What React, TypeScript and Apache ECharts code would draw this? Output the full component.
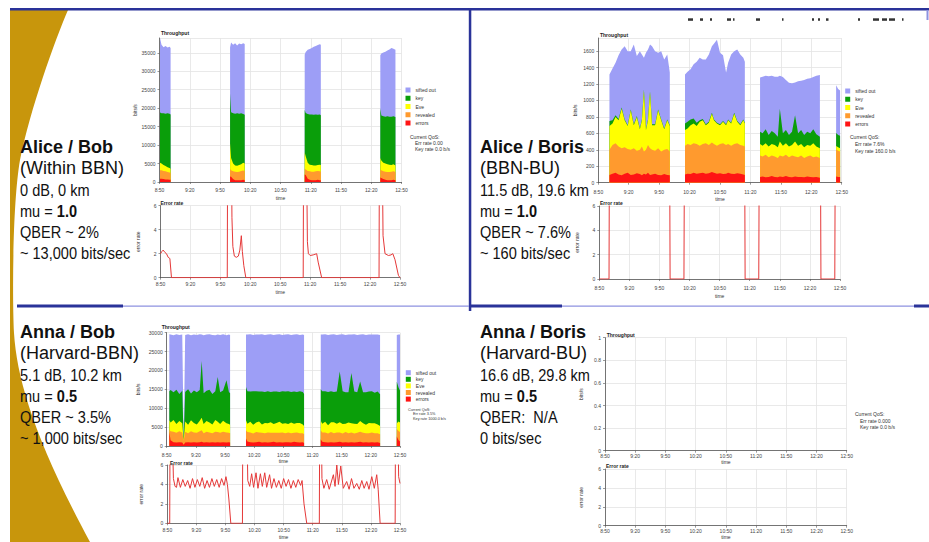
import React, { useEffect, useRef } from "react";
import * as echarts from "echarts";

// ---------- axis / legend texts ----------
const timeLabels = ["8:50", "9:20", "9:50", "10:20", "10:50", "11:20", "11:50", "12:20", "12:50"];
const legendNames = ["sifted out", "key", "Eve", "revealed", "errors"];
const layerNames = ["errors", "revealed", "Eve", "key", "sifted out"];
const layerColors = ["#ff1414", "#ff9a2e", "#ffff00", "#0a9e0a", "#9d9ef6"];

// ---------- Alice / Bob : throughput (bits/s per layer) ----------
const abTime = [0.5, 2, 4, 6, 8, 10, 11, 40, 70, 71, 73, 75, 77, 79, 81, 83, 84.5, 115, 144, 145, 147, 149, 151, 153, 155, 157, 159, 160, 190, 219, 220, 222, 224, 226, 228, 230, 232, 234];
const abErrors = [900, 900, 800, 700, 700, 600, 600, null, 1500, 1400, 800, 500, 500, 500, 500, 600, 500, null, 2000, 1900, 900, 600, 500, 500, 500, 600, 500, 500, null, 1200, 1100, 800, 600, 500, 500, 500, 600, 500];
const abRevealed = [2300, 2300, 2200, 2200, 2000, 2000, 1900, null, 2000, 1800, 2100, 2300, 2200, 2300, 2500, 2500, 2500, null, 1600, 1500, 2100, 2300, 2300, 2300, 2400, 2400, 2400, 2300, null, 2100, 2100, 2100, 2200, 2200, 2200, 2300, 2300, 2200];
const abEve = [2000, 1800, 1600, 1400, 1300, 1200, 1100, null, 7000, 3300, 2100, 1700, 1700, 1800, 1800, 2100, 2000, null, 4400, 3600, 2200, 1800, 1800, 1700, 1600, 1600, 1800, 1800, null, 3200, 2600, 2300, 2200, 2100, 2000, 1800, 1900, 1800];
const abKey = [13600, 13600, 14000, 14200, 14600, 14700, 14700, null, 13500, 12400, 13600, 14000, 14200, 13900, 13800, 13200, 13200, null, 11500, 11700, 13200, 13600, 13700, 13700, 13800, 13600, 13600, 13500, null, 13500, 12200, 12600, 12700, 13000, 13000, 13100, 13000, 13100];
const abSifted = [20200, 18600, 17900, 18300, 17800, 18100, 18000, null, 12500, 18900, 18600, 19100, 18400, 19000, 18700, 19200, 19200, null, 15000, 16500, 17400, 17700, 18000, 18400, 18500, 18900, 19000, 19100, null, 14300, 16800, 17300, 17600, 17800, 18200, 18600, 18300, 18200];

// ---------- Alice / Bob : error rate ----------
const abErrTime = [0, 1.5, 2.7, 4.5, 6, 7.7, 9.4, 11, 66.9, 67.2, 71.2, 71.6, 72.5, 74, 76, 78, 79.5, 81, 82, 83.5, 85.5, 143, 143.3, 146.5, 147.2, 148.2, 150, 153, 156.5, 158, 161.5, 219, 219.3, 222.4, 223, 225, 228.4, 231, 232.8, 235, 238.4, 240];
const abErrRate = [2.0, 2.2, 2.3, 2.1, 2.0, 1.7, 1.6, 0, 0, 9, 9, 5, 2.6, 1.8, 1.7, 1.8, 2.3, 3.5, 2.2, 1.0, 0, 0, 9, 9, 3, 2.0, 1.85, 1.9, 2.0, 1.3, 0, 0, 9, 9, 3.5, 2.0, 1.85, 1.9, 2.0, 1.5, 0.2, 0];

// ---------- Alice / Boris : throughput ----------
const boTime = [11, 14, 17, 20, 23, 26, 29, 32, 35, 38, 41, 43, 45, 47, 49, 51, 53, 56, 59, 62, 65, 68, 70.5, 78, 85.5, 88, 91, 94, 97, 100, 103, 106, 109, 112, 114, 117, 120, 123, 126, 128, 131, 134, 137, 140, 143, 144.5, 152, 159.5, 162, 165, 168, 171, 174, 177, 179, 182, 185, 188, 191, 194, 197, 200, 203, 206, 209, 212, 215, 218.5, 226, 234.5, 236.5, 238.4];
const boErrors = [95, 110, 120, 100, 90, 110, 120, 95, 100, 115, 105, 90, 110, 100, 120, 95, 100, 110, 95, 90, 105, 95, 90, null, 100, 110, 105, 120, 110, 115, 120, 110, 115, 130, 120, 110, 115, 105, 110, 120, 110, 105, 115, 110, 100, 95, null, 70, 75, 65, 70, 80, 70, 65, 75, 70, 80, 70, 65, 75, 70, 70, 65, 75, 70, 65, 70, 60, null, 75, 70, 70];
const boRevealed = [305, 350, 360, 340, 330, 320, 290, 305, 320, 275, 295, 350, 270, 300, 340, 325, 300, 280, 325, 290, 295, 315, 290, null, 350, 360, 355, 360, 360, 335, 350, 370, 345, 360, 350, 340, 355, 375, 350, 350, 340, 365, 365, 350, 350, 345, null, 260, 245, 275, 240, 250, 250, 235, 255, 250, 260, 240, 265, 245, 240, 260, 235, 245, 260, 245, 250, 240, null, 330, 320, 310];
const boEve = [290, 260, 320, 320, 480, 330, 280, 480, 280, 410, 250, 320, 740, 240, 300, 680, 300, 310, 460, 380, 250, 350, 310, null, 190, 190, 240, 240, 220, 290, 290, 220, 270, 350, 290, 270, 230, 260, 240, 290, 270, 370, 260, 240, 310, 280, null, 140, 130, 140, 130, 140, 140, 130, 170, 130, 140, 130, 130, 180, 140, 140, 130, 140, 120, 170, 120, 120, null, 40, 40, 40];
const boKey = [60, 40, 20, 15, 15, 10, 10, 10, 10, 10, 10, 10, 10, 10, 10, 10, 10, 10, 10, 10, 10, 10, 10, null, 80, 80, 70, 60, 40, 20, 15, 10, 10, 10, 10, 10, 10, 10, 10, 10, 10, 10, 10, 10, 10, 10, null, 150, 150, 170, 140, 160, 140, 130, 400, 150, 160, 140, 160, 320, 150, 170, 150, 160, 150, 170, 150, 140, null, 160, 150, 150];
const boSifted = [565, 630, 640, 775, 705, 890, 900, 710, 970, 730, 940, 790, 390, 930, 850, 570, 950, 890, 690, 830, 840, 790, 640, null, 595, 610, 610, 660, 740, 760, 725, 790, 820, 810, 920, 1010, 870, 800, 630, 690, 830, 750, 870, 850, 750, 740, null, 660, 690, 650, 715, 670, 690, 730, 400, 685, 610, 635, 590, 400, 635, 600, 670, 645, 670, 635, 710, 750, null, 580, 560, 550];

// ---------- Alice / Boris : error rate ----------
const boErrTime = [0, 9.7, 10, 70.2, 70.6, 84.4, 84.8, 145, 145.4, 159, 159.4, 220.6, 221, 234.8, 235.2, 240];
const boErrRate = [0, 0, 9, 9, 0, 0, 9, 9, 0, 0, 9, 9, 0, 0, 9, 9];

// ---------- Anna / Bob : throughput ----------
const anTime = [2.7, 4, 7, 10, 13, 16, 17.5, 19, 22, 25, 28, 31, 34, 36, 38, 41, 44, 47, 50, 52.5, 55, 58, 61.5, 64, 65.2, 73, 81.6, 83, 86, 89, 92, 95, 98, 101, 104, 107, 110, 113, 116, 119, 122, 125, 128, 131, 134, 137, 140, 141.3, 150, 158.5, 160, 163, 166, 169, 172, 175, 178, 181, 184, 187, 190, 193, 196, 199, 202, 205, 208, 211, 214, 217, 219.5, 228, 236.7, 238.5, 240];
const anErrors = [3800, 1500, 1000, 900, 1000, 900, 300, 900, 1000, 900, 1000, 900, 1000, 1100, 900, 1000, 900, 1000, 900, 1000, 900, 1000, 900, 1000, 900, null, 2000, 1200, 1000, 900, 1000, 1100, 900, 1000, 900, 1000, 1100, 900, 1000, 900, 1000, 1000, 900, 1100, 1000, 900, 1000, 800, null, 1800, 1100, 1000, 900, 1000, 900, 1000, 1100, 900, 1000, 900, 1000, 900, 1000, 1100, 900, 1000, 900, 1000, 900, 1000, 800, null, 2500, 1500, 1200];
const anRevealed = [500, 2400, 2800, 2600, 2900, 2700, 1100, 2900, 2400, 3000, 2600, 2600, 2900, 3100, 2500, 2800, 2700, 2400, 2900, 2700, 2600, 2800, 2700, 2500, 2500, null, 2200, 2500, 2600, 2400, 2700, 2500, 2600, 2400, 2700, 2500, 2400, 2600, 2500, 2700, 2400, 2600, 2500, 2400, 2600, 2500, 2400, 2300, null, 2400, 2500, 2600, 2400, 2700, 2500, 2600, 2500, 2400, 2700, 2500, 2600, 2400, 2500, 2700, 2600, 2400, 2500, 2600, 2500, 2400, 2300, null, 2000, 2500, 2500];
const anEve = [2500, 2300, 3100, 2300, 2700, 2400, 0, 2700, 2200, 2900, 2500, 2200, 2800, 3300, 2400, 2800, 2600, 2300, 3100, 2700, 2300, 2900, 2400, 2300, 2200, null, 2600, 2200, 2800, 2300, 2500, 2900, 2200, 2700, 2400, 2800, 2300, 2600, 2900, 2300, 2600, 2200, 2800, 2400, 2500, 2700, 2300, 2200, null, 2500, 2300, 2800, 2200, 2600, 2900, 2300, 2700, 2500, 2200, 2800, 2400, 2600, 2300, 2800, 2500, 2200, 2700, 2400, 2600, 2300, 2200, null, 1500, 2500, 2500];
const anKey = [7700, 8600, 7300, 9100, 7200, 8600, 0, 7800, 9400, 7100, 8600, 8500, 8100, 15000, 8200, 8000, 8700, 8100, 7600, 11900, 8400, 8000, 11400, 8500, 8400, null, 8800, 8600, 8000, 8900, 8300, 7900, 8700, 8200, 8500, 8000, 8600, 8300, 7900, 8600, 8400, 8700, 8100, 8500, 8200, 8400, 8600, 8500, null, 8300, 8600, 8100, 8800, 8200, 8000, 8500, 13400, 8700, 8300, 8000, 13300, 8500, 8400, 10500, 8200, 8600, 8300, 8500, 8100, 8700, 8400, null, 11000, 9000, 8500];
const anSifted = [15100, 14700, 15100, 14700, 15600, 14900, 0, 15100, 14600, 15400, 14800, 15200, 14800, 7000, 15300, 14900, 14700, 15600, 14800, 11200, 15200, 14900, 11900, 15200, 15400, null, 13900, 15000, 15200, 14900, 15000, 15100, 15200, 15100, 15000, 15300, 15000, 15100, 15300, 14900, 15100, 15100, 15100, 15100, 15300, 14900, 15200, 15600, null, 14500, 15000, 15100, 15100, 15000, 15300, 15000, 9800, 15100, 15200, 15300, 10200, 15200, 15200, 12400, 15400, 15200, 15100, 15000, 15400, 15100, 15700, null, 12400, 14000, 14800];

// ---------- Anna / Bob : error rate ----------
const anErrTime = [0, 2.5, 2.8, 5.3, 6.3, 8, 9.5, 11, 13.5, 16, 18.5, 21, 23.5, 26, 28.5, 31, 33.5, 36, 38.5, 41, 43.5, 46, 48.5, 51, 53.5, 56, 58.5, 60.5, 62, 63.5, 65.5, 77.5, 77.8, 82.3, 83, 85, 87, 89, 91.5, 93.5, 96, 98, 100.5, 102.5, 105.5, 107.5, 110, 112.5, 115, 117.5, 120, 122.5, 125, 127.5, 130, 132.5, 135, 137.5, 139, 141, 143.8, 156.8, 157.1, 159, 159.5, 161.5, 164.4, 167, 171.3, 173, 174.8, 176.5, 178.9, 181.5, 185, 187.5, 190, 192.5, 195.4, 198, 200.6, 203, 205.7, 208, 210.9, 213.5, 216, 217.5, 219.5, 235, 235.3, 238, 238.6, 240];
const anErrRate = [0, 0, 9, 9, 4.6, 3.8, 3.7, 4.7, 3.7, 4.5, 3.8, 4.4, 3.6, 4.6, 3.7, 4.5, 3.8, 4.7, 3.6, 4.4, 3.7, 4.6, 3.8, 4.5, 3.7, 4.6, 3.9, 4.8, 4.0, 2.5, 0, 0, 9, 9, 4.4, 3.8, 5.1, 3.7, 5.2, 3.6, 5.1, 3.8, 5.2, 3.7, 5.0, 3.6, 4.6, 3.7, 4.4, 3.6, 4.6, 3.8, 4.5, 3.6, 4.4, 3.7, 4.5, 3.9, 4.4, 2.0, 0, 0, 9, 9, 4.6, 3.6, 4.5, 3.5, 5.0, 3.8, 6.0, 4.0, 5.9, 3.6, 4.3, 3.5, 4.6, 3.6, 4.1, 3.5, 4.4, 3.6, 4.3, 3.5, 4.8, 3.6, 5.0, 3.5, 0, 0, 9, 9, 4.8, 4.1];

// ---------- slide texts ----------
const blockAliceBob = ["Alice / Bob", "(Within BBN)", "0 dB, 0 km", "mu = {b|1.0}", "QBER ~ 2%", "~ 13,000 bits/sec"];
const blockAliceBoris = ["Alice / Boris", "(BBN-BU)", "11.5 dB, 19.6 km", "mu = {b|1.0}", "QBER ~ 7.6%", "~ 160 bits/sec"];
const blockAnnaBob = ["Anna / Bob", "(Harvard-BBN)", "5.1 dB, 10.2 km", "mu = {b|0.5}", "QBER ~ 3.5%", "~ 1,000 bits/sec"];
const blockAnnaBoris = ["Anna / Boris", "(Harvard-BU)", "16.6 dB, 29.8 km", "mu = {b|0.5}", "QBER:  N/A", "0 bits/sec"];
const qosAliceBob = ["Current QoS:", "Err rate 0.00", "Key rate 0.0 b/s"];
const qosAliceBoris = ["Current QoS:", "Err rate 7.6%", "Key rate 160.0 b/s"];
const qosAnnaBob = ["Current QoS:", "Err rate 3.5%", "Key rate 1000.0 b/s"];
const qosAnnaBoris = ["Current QoS:", "Err rate 0.000", "Key rate 0.0 b/s"];

const FONT = '"Liberation Sans", Arial, Helvetica, sans-serif';
const NAVY = "#2a3399";
const THIN = "#8e92e0";
const GOLD = "#c8960c";
const tiny = { fontSize: 5, color: "#444", fontFamily: FONT };

const goldPath =
  "M10,10 L68,10 C55,40 30,110 20,160 C13,200 12,290 14,333 C17,380 35,440 90,542 L10,542 Z";
let shapeRegistered = false;
function ensureShape() {
  if (!shapeRegistered) {
    echarts.graphic.registerShape("goldArc", echarts.graphic.extendPath(goldPath, {}) as any);
    shapeRegistered = true;
  }
}

function xAxisFor(gridIndex: number, nameGap: number, margin: number) {
  return {
    type: "value",
    gridIndex,
    min: 0,
    max: 240,
    interval: 30,
    name: "time",
    nameLocation: "middle",
    nameGap,
    nameTextStyle: { ...tiny, color: "#333" },
    axisLabel: {
      ...tiny,
      margin,
      formatter: (v: number) => timeLabels[Math.round(v / 30)] ?? "",
    },
    axisLine: { onZero: false, lineStyle: { color: "#555", width: 0.8 } },
    axisTick: { length: 2, lineStyle: { color: "#555", width: 0.6 } },
    splitLine: { show: true, lineStyle: { color: "#e3e3e3", width: 0.8 } },
  };
}

function yAxisFor(gridIndex: number, max: number, interval: number, name: string, nameGap: number, showMax: boolean) {
  return {
    type: "value",
    gridIndex,
    min: 0,
    max,
    interval,
    name,
    nameLocation: "middle",
    nameRotate: 90,
    nameGap,
    nameTextStyle: { ...tiny, color: "#333" },
    axisLabel: {
      ...tiny,
      margin: 4,
      showMaxLabel: showMax,
      formatter: (v: number) => String(Math.round(v * 10) / 10),
    },
    axisLine: { show: true, lineStyle: { color: "#555", width: 0.8 } },
    axisTick: { show: true, length: 2, lineStyle: { color: "#555", width: 0.6 } },
    splitLine: { show: true, lineStyle: { color: "#e3e3e3", width: 0.8 } },
  };
}

// Layers are drawn as overlapping areas whose tops are the running sums of the
// layers below (a cumulative stack); upper layers first, lower layers on top.
function layeredSeries(idx: number, times: number[], layers: (number | null)[][]) {
  const out: any[] = [];
  for (let k = layers.length - 1; k >= 0; k--) {
    const data = times.map((t, i) => {
      let s = 0;
      for (let j = 0; j <= k; j++) {
        const v = layers[j][i];
        if (v == null) return [t, null];
        s += v;
      }
      return [t, s];
    });
    out.push({
      name: layerNames[k],
      type: "line",
      xAxisIndex: idx,
      yAxisIndex: idx,
      data,
      showSymbol: false,
      symbol: "none",
      connectNulls: false,
      silent: true,
      lineStyle: { width: 0, color: layerColors[k] },
      itemStyle: { color: layerColors[k] },
      areaStyle: { color: layerColors[k], opacity: 1, origin: "start" },
      z: 2,
    });
  }
  return out;
}

function errSeries(idx: number, times: number[], vals: number[]) {
  return {
    name: "error rate",
    type: "line",
    xAxisIndex: idx,
    yAxisIndex: idx,
    data: times.map((t, i) => [t, vals[i]]),
    showSymbol: false,
    symbol: "none",
    clip: true,
    silent: true,
    lineStyle: { width: 1, color: "#e53838" },
    itemStyle: { color: "#e53838" },
    z: 3,
  };
}

function legendAt(left: number, top: number, gap: number) {
  return {
    data: legendNames,
    orient: "vertical",
    left,
    top,
    padding: 0,
    itemWidth: 5,
    itemHeight: 5,
    itemGap: gap,
    icon: "rect",
    selectedMode: false,
    textStyle: { fontSize: 5, color: "#333", fontFamily: FONT, lineHeight: 5 },
  };
}

function textBlock(lines: string[], x: number, ys: number[]) {
  return lines.map((t, i) => {
    const big = i < 2;
    return {
      type: "text",
      x,
      y: ys[i],
      scaleX: big ? 1 : 0.91,
      z: 10,
      style: {
        text: t,
        fontFamily: FONT,
        fontSize: big ? 18 : 16,
        fontWeight: i === 0 ? "bold" : "normal",
        fill: "#111",
        align: "left",
        verticalAlign: "middle",
        rich: { b: { fontWeight: "bold", fontSize: 16, fontFamily: FONT, fill: "#111" } },
      },
    };
  });
}

function qosBlock(lines: string[], x: number, y: number, step: number, size: number) {
  return lines.map((t, i) => ({
    type: "text",
    x: i === 0 ? x : x + 5,
    y: y + i * step,
    z: 10,
    style: { text: t, fontFamily: FONT, fontSize: size, fill: "#333", verticalAlign: "middle" },
  }));
}

function rect(x: number, y: number, w: number, h: number, fill: string) {
  return { type: "rect", shape: { x, y, width: w, height: h }, style: { fill }, z: 5 };
}

const topMarks = [
  [688, 5], [700, 3], [710, 2], [727, 4], [733, 1.5], [756, 4], [782, 1.5], [812, 2], [818, 2], [826, 2.5], [858, 2], [873, 6], [882, 5], [889, 6], [902, 1.5],
];

export default function App() {
  const ref = useRef<HTMLDivElement>(null);

  useEffect(() => {
    if (!ref.current) return;
    ensureShape();
    const chart = echarts.init(ref.current, undefined, { renderer: "svg" });

    const grids = [
      { left: 159.5, top: 38, width: 242, height: 144 },
      { left: 160.5, top: 205.7, width: 239.5, height: 72 },
      { left: 598.3, top: 38, width: 243.4, height: 144.7 },
      { left: 599.3, top: 206, width: 240.7, height: 73 },
      { left: 166.7, top: 332.7, width: 233.3, height: 113.3 },
      { left: 167.3, top: 465, width: 232.7, height: 58.3 },
      { left: 605, top: 337.7, width: 241.7, height: 113 },
      { left: 605, top: 469, width: 241.7, height: 56.7 },
    ].map((g) => ({ ...g, containLabel: false }));

    const xAxes = [
      xAxisFor(0, 13.5, 5.5),
      xAxisFor(1, 12, 4),
      xAxisFor(2, 14, 6.5),
      xAxisFor(3, 14.5, 6.5),
      xAxisFor(4, 11.5, 6.5),
      xAxisFor(5, 11.5, 4),
      xAxisFor(6, 8, 3),
      xAxisFor(7, 8.5, 3),
    ];
    const yAxes = [
      yAxisFor(0, 39000, 5000, "bits/s", 20, false),
      yAxisFor(1, 6, 2, "error rate", 20, true),
      yAxisFor(2, 1760, 200, "bits/s", 21, false),
      yAxisFor(3, 6, 2, "error rate", 20, true),
      yAxisFor(4, 30000, 5000, "bits/s", 26, true),
      yAxisFor(5, 6, 2, "error rate", 24, true),
      yAxisFor(6, 1, 0.2, "bits/s", 22, true),
      yAxisFor(7, 6, 2, "error rate", 22, true),
    ];

    const series: any[] = [
      ...layeredSeries(0, abTime, [abErrors, abRevealed, abEve, abKey, abSifted]),
      errSeries(1, abErrTime, abErrRate),
      ...layeredSeries(2, boTime, [boErrors, boRevealed, boEve, boKey, boSifted]),
      errSeries(3, boErrTime, boErrRate),
      ...layeredSeries(4, anTime, [anErrors, anRevealed, anEve, anKey, anSifted]),
      errSeries(5, anErrTime, anErrRate),
    ];

    const titleAt = (text: string, left: number, top: number) => ({
      text,
      left,
      top,
      padding: 0,
      textStyle: { fontSize: 5, fontWeight: "bold", color: "#222", fontFamily: FONT },
    });

    const ysTop = [147, 168, 190, 211, 232, 253];
    const ysBot = [332, 353, 375, 396, 417, 438];

    const graphics: any[] = [
      { type: "goldArc", x: 0, y: 0, z: 0, style: { fill: GOLD } },
      rect(10, 8, 919, 2.5, NAVY),
      rect(468.8, 8, 2.5, 303, NAVY),
      rect(17, 304.5, 106, 3, NAVY),
      rect(123, 305.5, 346, 1.3, THIN),
      rect(471, 304.5, 91, 3, NAVY),
      rect(562, 305.5, 352, 1.3, THIN),
      rect(914, 304.5, 15, 3, NAVY),
      rect(926.5, 10, 2, 10, THIN),
      ...topMarks.map(([x, w]) => rect(x, 18.3, w, 2.5, "#333")),
      ...textBlock(blockAliceBob, 20, ysTop),
      ...textBlock(blockAliceBoris, 480, ysTop),
      ...textBlock(blockAnnaBob, 20, ysBot),
      ...textBlock(blockAnnaBoris, 480, ysBot),
      ...qosBlock(qosAliceBob, 410, 137, 6.2, 5),
      ...qosBlock(qosAliceBoris, 850, 136.7, 7, 5),
      ...qosBlock(qosAnnaBob, 408, 410, 4.3, 3.8),
      ...qosBlock(qosAnnaBoris, 855, 414, 6.5, 5),
    ];

    chart.setOption({
      animation: false,
      backgroundColor: "#ffffff",
      textStyle: { fontFamily: FONT },
      title: [
        titleAt("Throughput", 161, 30.5),
        titleAt("Error rate", 160.5, 200.5),
        titleAt("Throughput", 600, 32),
        titleAt("Error rate", 600, 200.5),
        titleAt("Throughput", 161.7, 324),
        titleAt("Error rate", 170, 460.5),
        titleAt("Throughput", 606.7, 332),
        titleAt("Error rate", 606, 463),
      ],
      legend: [legendAt(405.5, 87.5, 3.25), legendAt(845.2, 88.5, 3.25), legendAt(405.8, 370.2, 1.6)],
      grid: grids,
      xAxis: xAxes,
      yAxis: yAxes,
      series,
      graphic: { elements: graphics },
    } as any);

    return () => {
      chart.dispose();
    };
  }, []);

  return (
    <div
      ref={ref}
      style={{ position: "fixed", left: 0, top: 0, width: 929, height: 542, background: "#fff" }}
    />
  );
}
